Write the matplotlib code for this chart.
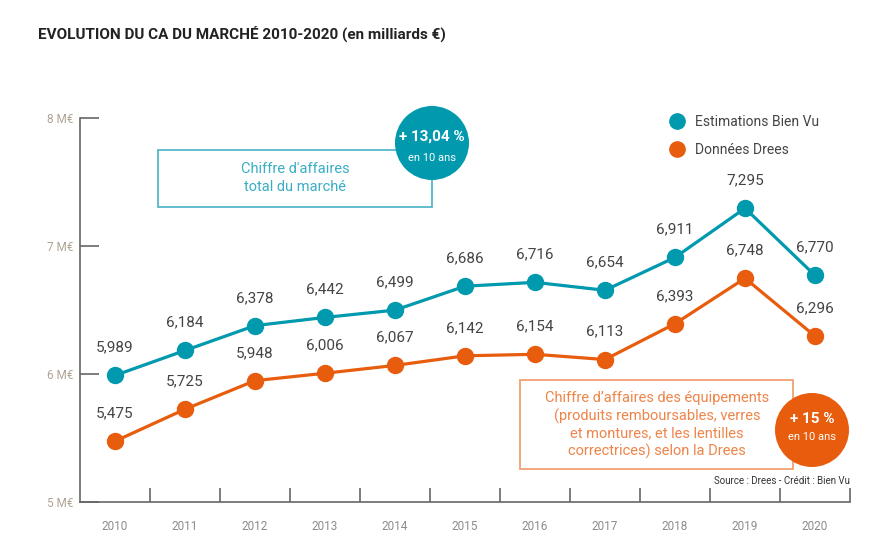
import matplotlib.pyplot as plt
from matplotlib.patches import Rectangle, Circle
from matplotlib.lines import Line2D

plt.rcParams['font.family'] = ['Roboto', 'DejaVu Sans']

years = ['2010', '2011', '2012', '2013', '2014', '2015', '2016', '2017', '2018', '2019', '2020']
bien_vu = [5.989, 6.184, 6.378, 6.442, 6.499, 6.686, 6.716, 6.654, 6.911, 7.295, 6.770]
drees = [5.475, 5.725, 5.948, 6.006, 6.067, 6.142, 6.154, 6.113, 6.393, 6.748, 6.296]
y_ticks = [5, 6, 7, 8]
y_labels = ['5 M€', '6 M€', '7 M€', '8 M€']

TEAL = '#0099ae'
ORANGE = '#e85c0d'
W, H = 895, 553

fig = plt.figure(figsize=(W / 100, H / 100), dpi=100)
ax = fig.add_axes([80 / W, 1 - 502 / H, 770 / W, 384 / H])

x = list(range(len(years)))
ax.plot(x, bien_vu, color=TEAL, lw=2.3, marker='o', ms=11.5, zorder=3)
ax.plot(x, drees, color=ORANGE, lw=2.3, marker='o', ms=11.5, zorder=3)

# value labels above points
for xi, v in zip(x, bien_vu):
    ax.annotate(f'{v:.3f}'.replace('.', ','), (xi, v), xytext=(0, 20), textcoords='offset points',
                ha='center', va='center', fontsize=11, color='#444444')
for xi, v in zip(x, drees):
    ax.annotate(f'{v:.3f}'.replace('.', ','), (xi, v), xytext=(0, 20), textcoords='offset points',
                ha='center', va='center', fontsize=11, color='#444444')

ax.set_xlim(-0.5, len(years) - 0.5)
ax.set_ylim(5, 8)
ax.set_yticks(y_ticks)
ax.set_yticklabels(y_labels)
ax.tick_params(axis='y', direction='in', length=14, width=1.2, color='#666666',
               labelcolor='#b0a394', labelsize=8.5, pad=5)

# boundary ticks on the x axis, year labels in between
ax.set_xticks([i + 0.5 for i in x])
ax.set_xticklabels([])
ax.tick_params(axis='x', which='major', direction='in', length=10, width=1.2, color='#666666')
ax.set_xticks(x, minor=True)
ax.set_xticklabels(years, minor=True)
ax.tick_params(axis='x', which='minor', length=0, pad=13, labelsize=8.5, labelcolor='#8c8c8c')

for s in ['top', 'right']:
    ax.spines[s].set_visible(False)
for s in ['left', 'bottom']:
    ax.spines[s].set_color('#666666')
    ax.spines[s].set_linewidth(1.2)

# title
fig.text(38 / W, 1 - 34 / H, 'EVOLUTION DU CA DU MARCHÉ 2010-2020 (en milliards €)',
         fontsize=11, fontweight='bold', color='#222222', va='center', ha='left')

# legend
handles = [Line2D([], [], ls='none', marker='o', ms=11, color=TEAL),
           Line2D([], [], ls='none', marker='o', ms=11, color=ORANGE)]
fig.legend(handles, ['Estimations Bien Vu', 'Données Drees'], loc='upper left',
           bbox_to_anchor=(656 / W, 1 - 108 / H), frameon=False, fontsize=10,
           labelcolor='#444444', handletextpad=0.3, labelspacing=1.0, borderpad=0)

tr = fig.dpi_scale_trans


def px(xp, yp):
    return xp / 100, (H - yp) / 100


# teal annotation box + circle
fig.patches.append(Rectangle(px(158, 207), 274 / 100, 57 / 100, transform=tr,
                             fill=False, ec='#55b8c8', lw=1.3, zorder=5))
fig.patches.append(Circle(px(432, 143), 0.37, transform=tr, fc=TEAL, ec='none', zorder=6))
fig.text(295 / W, 1 - 178 / H, "Chiffre d'affaires\ntotal du marché", ha='center', va='center',
         fontsize=10.5, color='#3aaec4', linespacing=1.4)
fig.text(432 / W, 1 - 137 / H, '+ 13,04 %', ha='center', va='center', fontsize=11,
         fontweight='bold', color='white', zorder=7)
fig.text(432 / W, 1 - 158 / H, 'en 10 ans', ha='center', va='center', fontsize=8,
         color='white', zorder=7)

# orange annotation box + circle
fig.patches.append(Rectangle(px(520, 469), 273 / 100, 89 / 100, transform=tr,
                             fill=False, ec='#f2a072', lw=1.3, zorder=5))
fig.patches.append(Circle(px(812, 430), 0.37, transform=tr, fc=ORANGE, ec='none', zorder=6))
fig.text(657 / W, 1 - 425 / H,
         "Chiffre d’affaires des équipements\n(produits remboursables, verres\n"
         "et montures, et les lentilles\ncorrectrices) selon la Drees",
         ha='center', va='center', fontsize=10.5, color='#ef8449', linespacing=1.25)
fig.text(812 / W, 1 - 419 / H, '+ 15 %', ha='center', va='center', fontsize=11,
         fontweight='bold', color='white', zorder=7)
fig.text(812 / W, 1 - 437 / H, 'en 10 ans', ha='center', va='center', fontsize=8,
         color='white', zorder=7)

fig.text(850 / W, 1 - 481 / H, 'Source : Drees - Crédit : Bien Vu', ha='right', va='center',
         fontsize=7, color='#333333')

fig.savefig('out.png', dpi=100, facecolor='white')
